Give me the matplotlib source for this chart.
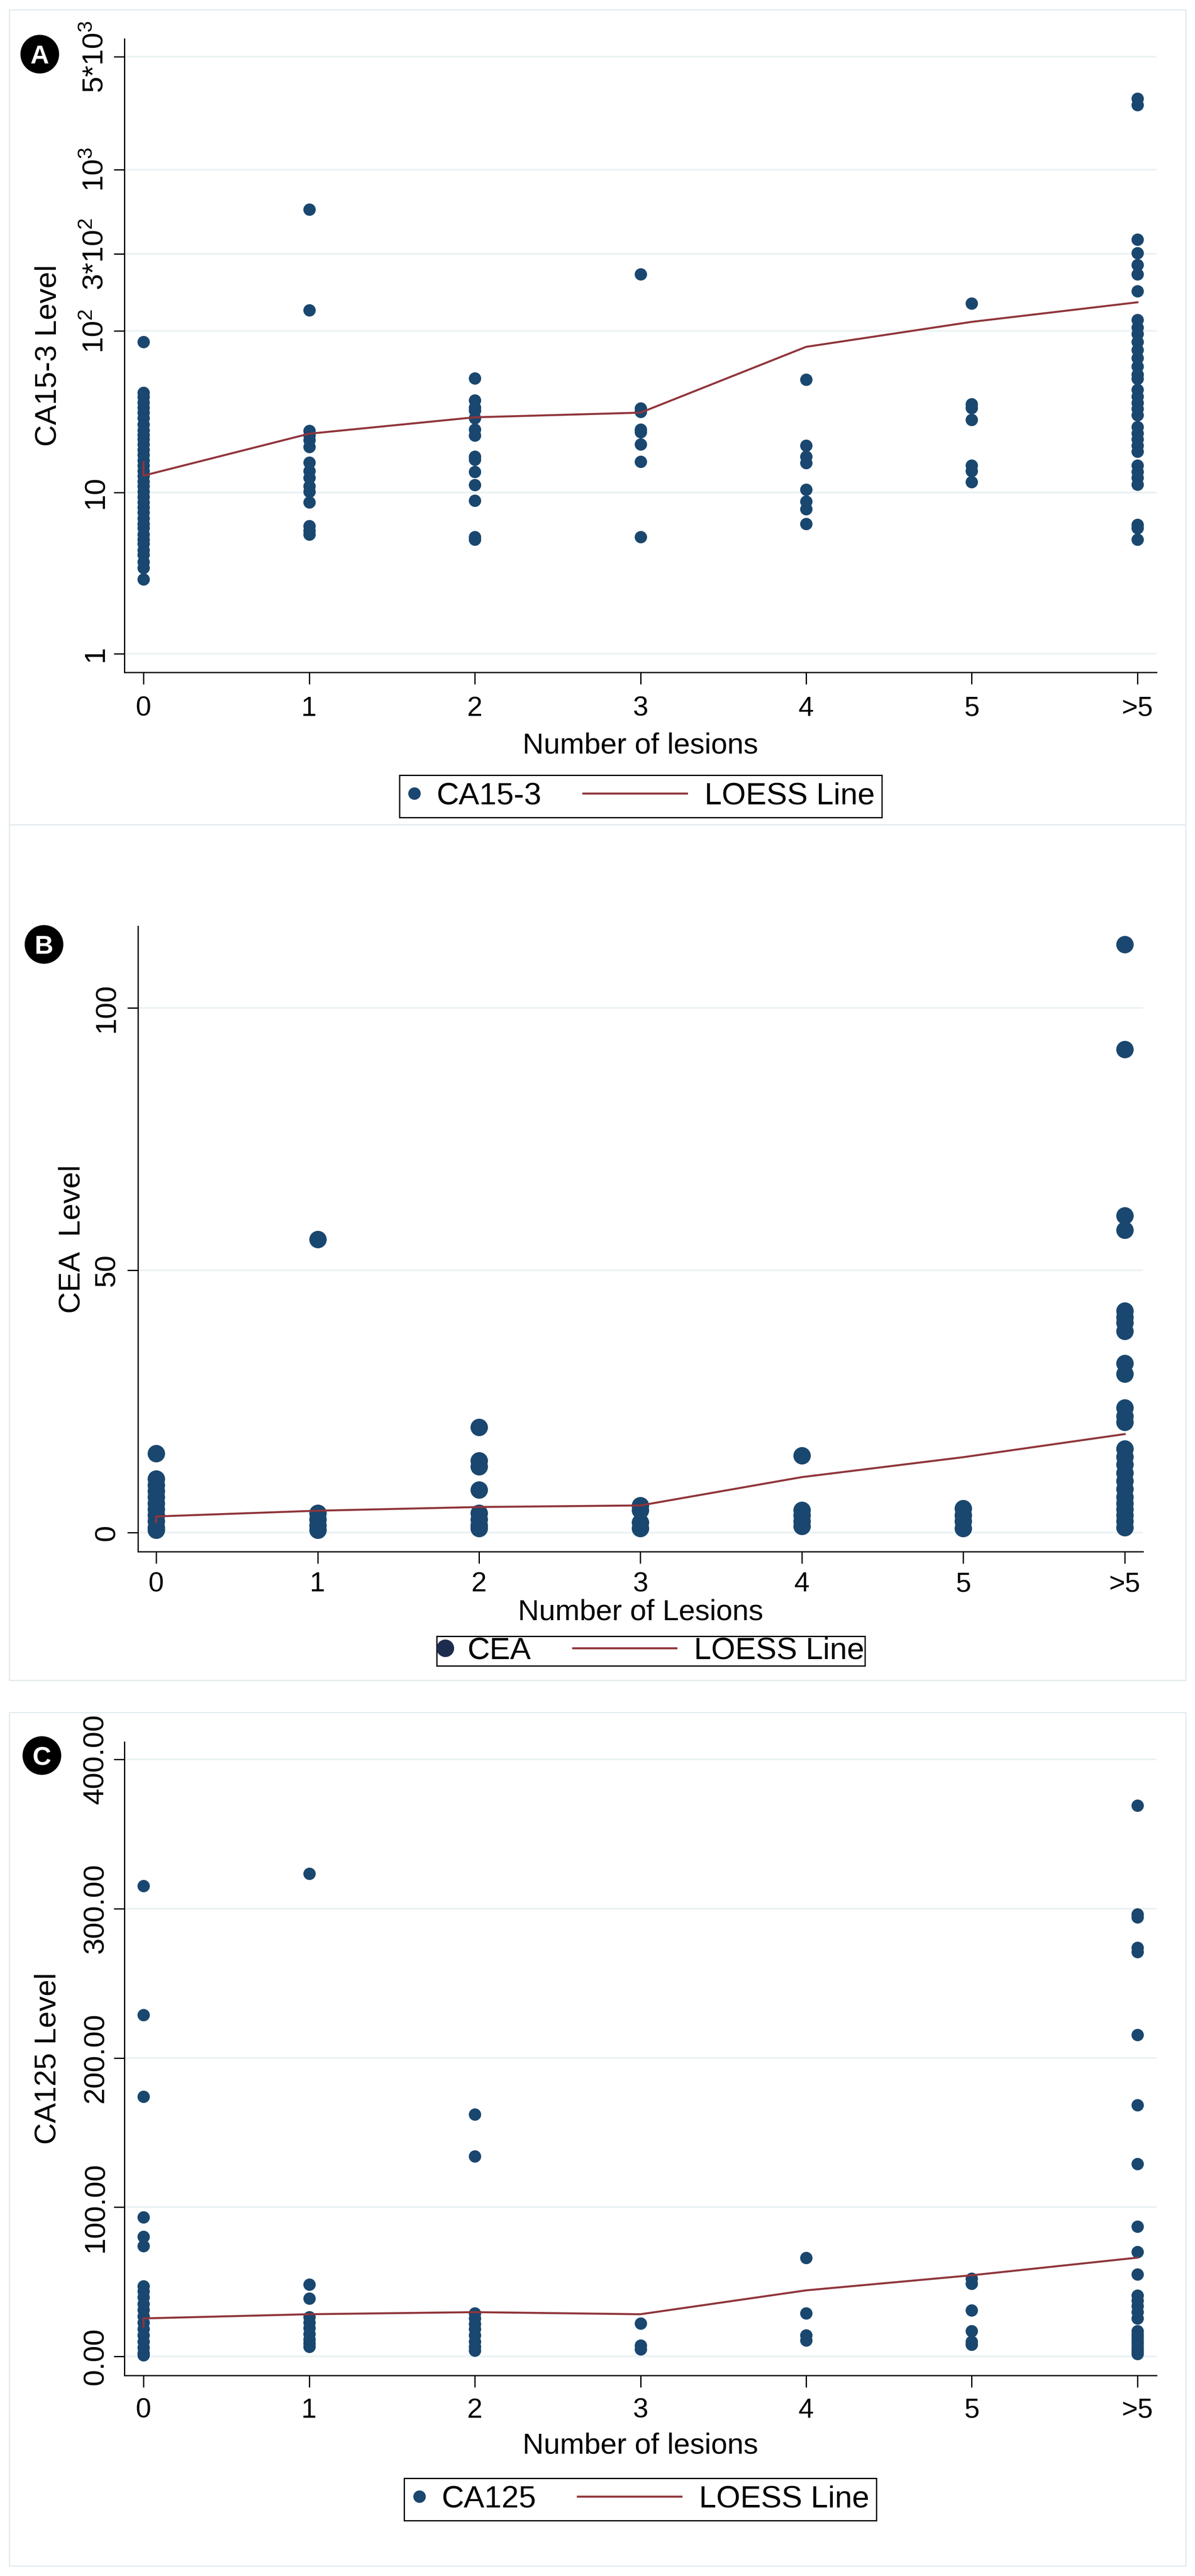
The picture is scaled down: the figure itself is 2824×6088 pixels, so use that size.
import numpy as np
import matplotlib
matplotlib.use('Agg')
import matplotlib.pyplot as plt
from matplotlib import font_manager
from matplotlib.font_manager import FontProperties
from matplotlib.lines import Line2D
from matplotlib.patches import Ellipse, Rectangle
from matplotlib.legend_handler import HandlerLine2D
from matplotlib.ticker import NullLocator

# categories on the x axis
lesion_pos = [0, 1, 2, 3, 4, 5, 6]
lesion_labels = ['0', '1', '2', '3', '4', '5', '>5']

# panel A: CA15-3 (log scale), one list per lesion group
ca153_levels = [
    [85.8, 41.6, 39.0, 36.2, 33.6, 31.2, 28.9, 26.4, 24.3, 22.7, 21.4, 19.9, 18.4,
     17.1, 15.8, 14.7, 13.6, 12.6, 11.7, 10.9, 10.1, 9.4, 8.7, 8.1, 7.5, 6.9, 6.4,
     6.0, 5.5, 5.1, 4.8, 4.4, 4.1, 3.7, 3.4, 2.9],
    [567, 135, 24.1, 22.5, 21.1, 19.2, 15.3, 13.6, 12.3, 10.9, 10.1, 8.7, 6.2, 5.8, 5.5],
    [50.9, 37.3, 33.6, 32.3, 28.9, 24.6, 22.5, 16.7, 16.0, 13.4, 11.1, 8.9, 5.3, 5.1],
    [225, 33.2, 31.6, 24.6, 23.6, 19.9, 15.5, 5.3],
    [49.9, 19.5, 16.7, 15.2, 10.4, 8.8, 7.9, 6.4],
    [148, 35.3, 33.3, 28.2, 14.7, 13.6, 11.6],
    [2755, 2523, 370, 305, 257, 225, 177, 117, 105, 96, 85.5, 76.2, 67.9, 60.4, 53.8,
     50.8, 43.2, 39.2, 35.9, 32.9, 30.2, 25.4, 23.3, 21.3, 19.5, 17.9, 14.7, 13.4,
     12.3, 11.2, 6.3, 6.0, 5.1],
]
ca153_loess_x = [0, 0, 1, 2, 3, 4, 5, 6]
ca153_loess_y = [15.4, 12.7, 23.1, 29.2, 31.2, 79.8, 114, 150.7]

# panel B: CEA
cea_levels = [
    [15.1, 10.3, 9.1, 7.9, 6.8, 5.6, 4.5, 3.3, 2.2, 1.0, 0.5],
    [55.9, 3.7, 2.5, 1.4, 0.5],
    [20.1, 13.7, 12.6, 8.2, 3.7, 2.5, 1.4, 0.8],
    [5.2, 4.3, 2.0, 0.8],
    [14.7, 4.3, 3.3, 2.2, 1.2],
    [4.6, 3.3, 2.2, 0.8],
    [112.1, 92.1, 60.4, 57.7, 42.3, 41.1, 40.0, 38.4, 32.3, 30.3, 23.8, 22.2, 21.1,
     16.0, 14.5, 13.0, 11.4, 9.9, 8.3, 6.8, 5.6, 4.5, 3.3, 2.2, 1.0],
]
cea_loess_x = [0, 0, 1, 2, 3, 4, 5, 6]
cea_loess_y = [2.0, 3.1, 4.2, 4.9, 5.2, 10.6, 14.4, 18.8]

# panel C: CA125
ca125_levels = [
    [315.3, 228.9, 174.2, 93.4, 80.2, 74.1, 47.1, 43.8, 39.6, 35.3, 31.1, 26.9, 22.7,
     18.5, 14.3, 10.1, 5.9, 2.2, 0.8],
    [323.4, 48.2, 39.0, 26.4, 22.7, 19.1, 15.1, 11.5, 8.7, 6.7],
    [162.1, 134.1, 28.9, 25.5, 21.9, 18.5, 14.3, 10.1, 6.7, 3.9],
    [22.2, 7.3, 5.0],
    [66.2, 28.9, 14.3, 10.7],
    [52.2, 48.8, 30.9, 17.1, 10.1, 7.9],
    [369.1, 296.2, 294.2, 273.8, 271.0, 215.4, 168.3, 129.0, 87.0, 70.1, 55.0, 41.0,
     37.6, 33.9, 29.7, 25.5, 17.1, 14.9, 12.9, 10.5, 8.7, 6.5, 4.5, 3.0, 1.7],
]
ca125_loess_x = [0, 0, 1, 2, 3, 4, 5, 6]
ca125_loess_y = [20.0, 25.5, 28.3, 29.7, 28.3, 44.3, 54.4, 66.2]

# look
W, H, DPI = 2824, 6088, 100
navy = '#1a476f'
navy_dark = '#1d2c4e'
maroon = '#90353b'
gridc = '#eaf2f3'
framec = '#e3ebef'

plt.rcParams['font.family'] = ['Liberation Sans', 'DejaVu Sans']
plt.rcParams['mathtext.fontset'] = 'custom'
plt.rcParams['mathtext.rm'] = 'Liberation Sans'
plt.rcParams['mathtext.it'] = 'Liberation Sans'

installed = {f.name for f in font_manager.fontManager.ttflist}
if 'Liberation Sans Narrow' in installed:
    narrow = dict(family='Liberation Sans Narrow')
    nscale = 1.0
else:
    narrow = dict(family='Liberation Sans')
    nscale = 0.94


def px2rect(l, t, r, b):
    return [l / W, 1 - b / H, (r - l) / W, (b - t) / H]


class LoessHandle(HandlerLine2D):
    # Stata draws the legend line longer than the marker key
    def create_artists(self, legend, orig_handle, xdescent, ydescent, width,
                       height, fontsize, trans):
        arts = super().create_artists(legend, orig_handle, xdescent, ydescent,
                                      width, height, fontsize, trans)
        x0 = -xdescent
        yy = np.asarray(arts[0].get_ydata())[0]
        arts[0].set_data([x0 - 2.95 * fontsize, x0 + 0.40 * fontsize], [yy, yy])
        return arts


fig = plt.figure(figsize=(W / DPI, H / DPI), dpi=DPI)
fig.patch.set_facecolor('white')

# light outer frames of the three graphs
for (l, t, r, b) in [(22, 23, 2802, 1949), (22, 1949, 2802, 3971), (22, 4047, 2802, 6064)]:
    fig.add_artist(Rectangle((l / W, 1 - b / H), (r - l) / W, (b - t) / H,
                             transform=fig.transFigure, fill=False,
                             edgecolor=framec, lw=2.2))


def draw_panel(rect, levels, lx, ly, ylim, yticks, yticklabels, ylabel, xlabel,
               leg_label, leg_center, msize, leg_msize, leg_mcolor, leg_pad,
               ylab_x, xlab_y, ytick_pad, xtick_pad, xlim, logy=False):
    ax = fig.add_axes(px2rect(*rect))
    for pos, vals in zip(lesion_pos, levels):
        ax.scatter([pos] * len(vals), vals, s=(msize * 0.72) ** 2, color=navy,
                   edgecolors=navy, linewidths=0.8, zorder=3)
    ax.plot(lx, ly, color=maroon, lw=3.4, zorder=4)
    if logy:
        ax.set_yscale('log')
        ax.yaxis.set_minor_locator(NullLocator())
    ax.set_ylim(*ylim)
    ax.set_xlim(*xlim)
    ax.set_yticks(yticks)
    ax.set_yticklabels(yticklabels)
    ax.set_xticks(lesion_pos)
    ax.set_xticklabels(lesion_labels)
    ax.yaxis.grid(True, color=gridc, lw=3)
    ax.set_axisbelow(True)
    for s in ['top', 'right']:
        ax.spines[s].set_visible(False)
    for s in ['left', 'bottom']:
        ax.spines[s].set_linewidth(2.2)
    ax.tick_params(axis='y', length=18, width=2.2, pad=ytick_pad, labelsize=50,
                   labelrotation=90)
    ax.tick_params(axis='x', length=20, width=2.2, pad=xtick_pad)
    for lbl in ax.get_yticklabels():
        lbl.set_va('center')
    for lbl in ax.get_xticklabels():
        lbl.set_fontproperties(FontProperties(size=50 * nscale, **narrow))
    ax.set_ylabel(ylabel, fontsize=51)
    ax.yaxis.set_label_coords(ylab_x, 0.5)
    ax.yaxis.label.set_va('center')
    ax.set_xlabel(xlabel, fontproperties=FontProperties(size=53 * nscale, **narrow))
    ax.xaxis.set_label_coords(0.5, xlab_y)
    ax.xaxis.label.set_va('center')

    mk = Line2D([], [], ls='none', marker='o', ms=leg_msize * 0.72,
                color=leg_mcolor)
    ln = Line2D([], [], color=maroon, lw=3.4)
    leg = ax.legend([mk, ln], [leg_label, 'LOESS Line'], ncol=2,
                    loc='center', bbox_to_anchor=(leg_center[0] / W, 1 - leg_center[1] / H),
                    bbox_transform=fig.transFigure, frameon=True, fancybox=False,
                    framealpha=1, edgecolor='black', borderpad=leg_pad,
                    handlelength=0.51, handletextpad=0.46, columnspacing=4.3,
                    prop=FontProperties(size=56 * nscale, **narrow),
                    handler_map={ln: LoessHandle()})
    leg.get_frame().set_linewidth(2.2)
    return ax


# panel A
draw_panel((294, 92, 2733, 1589), ca153_levels, ca153_loess_x, ca153_loess_y,
           (0.767, 6460), [1, 10, 100, 300, 1000, 5000],
           ['1', '10', '10$^{2}$', '3*10$^{2}$', '10$^{3}$', '5*10$^{3}$'],
           'CA15-3 Level', 'Number of lesions', 'CA15-3', (1514, 1882),
           28, 28, navy, 0.23, -0.0738, -0.116, 8, 20, (-0.115, 6.115), logy=True)

# panel B
draw_panel((326, 2189, 2701, 3667), cea_levels, cea_loess_x, cea_loess_y,
           (-3.6, 115.6), [0, 50, 100], ['0', '50', '100'],
           'CEA  Level', 'Number of Lesions', 'CEA', (1538, 3902),
           40, 40, navy_dark, 0.02, -0.0653, -0.097, 12, 14, (-0.113, 6.113))

# panel C
draw_panel((294, 4117, 2733, 5614), ca125_levels, ca125_loess_x, ca125_loess_y,
           (-12.7, 411.6), [0, 100, 200, 300, 400],
           ['0.00', '100.00', '200.00', '300.00', '400.00'],
           'CA125 Level', 'Number of lesions', 'CA125', (1513, 5907),
           28, 28, navy, 0.23, -0.0742, -0.111, 8, 18, (-0.115, 6.115))

# panel letters in black discs
for letter, (cx, cy) in zip(['A', 'B', 'C'], [(94, 128), (104, 2232), (99, 4149)]):
    fig.add_artist(Ellipse((cx / W, 1 - cy / H), 90 / W, 90 / H,
                           transform=fig.transFigure, color='black'))
    fig.text(cx / W, 1 - cy / H, letter, color='white', fontsize=44,
             fontweight='bold', ha='center', va='center_baseline')

fig.savefig('out.png', dpi=DPI, facecolor='white')
